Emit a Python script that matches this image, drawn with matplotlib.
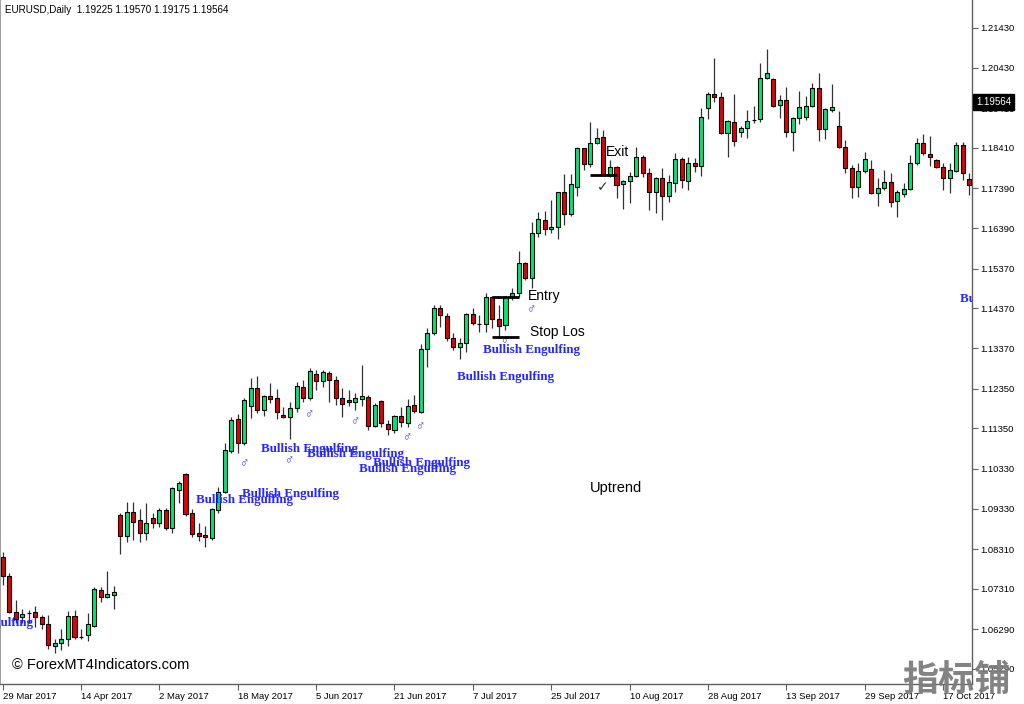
import numpy as np
import pandas as pd
import matplotlib
matplotlib.use("Agg")
from matplotlib import pyplot as plt
from matplotlib import transforms


# daily EURUSD candles, 29 Mar 2017 .. 23 Oct 2017
opens = [1.0811, 1.0763, 1.0672, 1.0660, 1.0670, 1.0672, 1.0660, 1.0642, 1.0587, 1.0594,
	1.0605, 1.0662, 1.0610, 1.0615, 1.0637, 1.0728, 1.0710, 1.0715, 1.0917, 1.0864,
	1.0924, 1.0904, 1.0871, 1.0909, 1.0897, 1.0929, 1.0884, 1.0980, 1.1020, 1.0922,
	1.0871, 1.0866, 1.0859, 1.0929, 1.0975, 1.1078, 1.1158, 1.1098, 1.1191, 1.1237,
	1.1181, 1.1216, 1.1211, 1.1168, 1.1164, 1.1186, 1.1239, 1.1211, 1.1272, 1.1254,
	1.1274, 1.1257, 1.1211, 1.1206, 1.1201, 1.1209, 1.1214, 1.1141, 1.1204, 1.1146,
	1.1131, 1.1166, 1.1148, 1.1194, 1.1176, 1.1335, 1.1375, 1.1438, 1.1418, 1.1362,
	1.1340, 1.1350, 1.1423, 1.1398, 1.1398, 1.1466, 1.1410, 1.1395, 1.1468, 1.1476,
	1.1551, 1.1514, 1.1627, 1.1660, 1.1637, 1.1642, 1.1730, 1.1675, 1.1743, 1.1841,
	1.1800, 1.1853, 1.1869, 1.1773, 1.1793, 1.1750, 1.1758, 1.1770, 1.1818, 1.1778,
	1.1730, 1.1765, 1.1720, 1.1753, 1.1813, 1.1758, 1.1803, 1.1796, 1.1942, 1.1977,
	1.1969, 1.1879, 1.1906, 1.1881, 1.1891, 1.1911, 1.1914, 1.2017, 1.2015, 1.1949,
	1.1962, 1.1881, 1.1916, 1.1919, 1.1947, 1.1992, 1.1889, 1.1937, 1.1896, 1.1843,
	1.1791, 1.1743, 1.1783, 1.1788, 1.1728, 1.1740, 1.1755, 1.1707, 1.1725, 1.1738,
	1.1803, 1.1853, 1.1826, 1.1811, 1.1793, 1.1765, 1.1783, 1.1848, 1.1763]

highs = [1.0824, 1.0771, 1.0703, 1.0680, 1.0678, 1.0688, 1.0665, 1.0665, 1.0605, 1.0630,
	1.0675, 1.0678, 1.0630, 1.0670, 1.0736, 1.0736, 1.0776, 1.0738, 1.0922, 1.0950,
	1.0950, 1.0932, 1.0947, 1.0922, 1.0934, 1.0934, 1.0987, 1.1002, 1.1022, 1.0932,
	1.0897, 1.0889, 1.0934, 1.0987, 1.1098, 1.1164, 1.1171, 1.1211, 1.1262, 1.1267,
	1.1219, 1.1249, 1.1234, 1.1189, 1.1201, 1.1252, 1.1257, 1.1287, 1.1282, 1.1282,
	1.1279, 1.1267, 1.1237, 1.1232, 1.1224, 1.1294, 1.1219, 1.1199, 1.1206, 1.1156,
	1.1168, 1.1189, 1.1209, 1.1219, 1.1347, 1.1388, 1.1446, 1.1446, 1.1425, 1.1375,
	1.1362, 1.1425, 1.1438, 1.1420, 1.1476, 1.1468, 1.1446, 1.1468, 1.1488, 1.1582,
	1.1554, 1.1655, 1.1680, 1.1682, 1.1710, 1.1731, 1.1775, 1.1775, 1.1843, 1.1842,
	1.1906, 1.1891, 1.1886, 1.1811, 1.1795, 1.1760, 1.1780, 1.1843, 1.1823, 1.1790,
	1.1768, 1.1790, 1.1773, 1.1828, 1.1818, 1.1818, 1.1816, 1.1942, 1.1982, 1.2068,
	1.1982, 1.1911, 1.1977, 1.1896, 1.1936, 1.1947, 1.2055, 1.2090, 1.2017, 1.1974,
	1.1994, 1.1919, 1.1984, 1.1972, 1.2005, 1.2030, 1.1942, 1.2002, 1.1934, 1.1861,
	1.1798, 1.1803, 1.1831, 1.1811, 1.1765, 1.1785, 1.1778, 1.1735, 1.1753, 1.1823,
	1.1866, 1.1876, 1.1871, 1.1813, 1.1803, 1.1803, 1.1856, 1.1856, 1.1778]

lows = [1.0740, 1.0670, 1.0645, 1.0645, 1.0645, 1.0635, 1.0630, 1.0579, 1.0569, 1.0577,
	1.0587, 1.0605, 1.0605, 1.0599, 1.0635, 1.0698, 1.0708, 1.0680, 1.0819, 1.0849,
	1.0854, 1.0849, 1.0854, 1.0884, 1.0887, 1.0879, 1.0871, 1.0947, 1.0914, 1.0861,
	1.0851, 1.0836, 1.0854, 1.0922, 1.0972, 1.1073, 1.1073, 1.1093, 1.1161, 1.1173,
	1.1166, 1.1199, 1.1158, 1.1161, 1.1108, 1.1176, 1.1201, 1.1206, 1.1232, 1.1239,
	1.1201, 1.1194, 1.1164, 1.1191, 1.1181, 1.1191, 1.1131, 1.1138, 1.1138, 1.1118,
	1.1123, 1.1138, 1.1138, 1.1173, 1.1173, 1.1289, 1.1370, 1.1390, 1.1355, 1.1332,
	1.1310, 1.1327, 1.1395, 1.1378, 1.1378, 1.1388, 1.1367, 1.1383, 1.1458, 1.1466,
	1.1509, 1.1488, 1.1617, 1.1622, 1.1627, 1.1612, 1.1647, 1.1670, 1.1720, 1.1785,
	1.1793, 1.1852, 1.1770, 1.1768, 1.1715, 1.1687, 1.1702, 1.1768, 1.1768, 1.1685,
	1.1677, 1.1660, 1.1705, 1.1730, 1.1740, 1.1735, 1.1780, 1.1770, 1.1914, 1.1957,
	1.1876, 1.1818, 1.1846, 1.1869, 1.1866, 1.1904, 1.1906, 1.2015, 1.1944, 1.1916,
	1.1869, 1.1833, 1.1901, 1.1911, 1.1944, 1.1858, 1.1864, 1.1931, 1.1841, 1.1778,
	1.1715, 1.1717, 1.1778, 1.1726, 1.1695, 1.1735, 1.1692, 1.1667, 1.1717, 1.1735,
	1.1798, 1.1823, 1.1796, 1.1791, 1.1735, 1.1728, 1.1780, 1.1760, 1.1722]

closes = [1.0763, 1.0672, 1.0655, 1.0667, 1.0670, 1.0660, 1.0642, 1.0589, 1.0594, 1.0605,
	1.0662, 1.0610, 1.0610, 1.0642, 1.0730, 1.0710, 1.0718, 1.0723, 1.0864, 1.0924,
	1.0899, 1.0871, 1.0897, 1.0897, 1.0929, 1.0884, 1.0985, 1.0997, 1.0919, 1.0869,
	1.0864, 1.0861, 1.0932, 1.0975, 1.1080, 1.1156, 1.1098, 1.1206, 1.1237, 1.1181,
	1.1216, 1.1209, 1.1176, 1.1164, 1.1186, 1.1242, 1.1211, 1.1279, 1.1254, 1.1277,
	1.1257, 1.1211, 1.1196, 1.1201, 1.1211, 1.1216, 1.1141, 1.1194, 1.1148, 1.1133,
	1.1166, 1.1151, 1.1191, 1.1179, 1.1335, 1.1375, 1.1438, 1.1420, 1.1362, 1.1340,
	1.1350, 1.1423, 1.1400, 1.1398, 1.1466, 1.1410, 1.1393, 1.1466, 1.1476, 1.1551,
	1.1514, 1.1627, 1.1662, 1.1637, 1.1642, 1.1730, 1.1675, 1.1750, 1.1841, 1.1800,
	1.1853, 1.1866, 1.1773, 1.1793, 1.1748, 1.1758, 1.1770, 1.1818, 1.1778, 1.1730,
	1.1765, 1.1720, 1.1755, 1.1813, 1.1760, 1.1803, 1.1796, 1.1919, 1.1977, 1.1969,
	1.1879, 1.1909, 1.1858, 1.1891, 1.1909, 1.1911, 1.2017, 1.2030, 1.1947, 1.1962,
	1.1881, 1.1916, 1.1944, 1.1947, 1.1992, 1.1889, 1.1939, 1.1944, 1.1843, 1.1791,
	1.1743, 1.1783, 1.1813, 1.1728, 1.1740, 1.1755, 1.1705, 1.1730, 1.1738, 1.1803,
	1.1853, 1.1828, 1.1818, 1.1793, 1.1765, 1.1785, 1.1848, 1.1778, 1.1748]

priceTicks = [1.21430, 1.20430, 1.19410, 1.18410, 1.17390, 1.16390, 1.15370, 1.14370,
	1.13370, 1.12350, 1.11350, 1.10330, 1.09330, 1.08310, 1.07310, 1.06290, 1.05290]
dateTicks = ["29 Mar 2017", "14 Apr 2017", "2 May 2017", "18 May 2017", "5 Jun 2017",
	"21 Jun 2017", "7 Jul 2017", "25 Jul 2017", "10 Aug 2017", "28 Aug 2017",
	"13 Sep 2017", "29 Sep 2017", "17 Oct 2017"]

header = "EURUSD,Daily  1.19225 1.19570 1.19175 1.19564"
lastPrice = 1.19564

# pattern labels (bar position, price) as placed on the chart
engulfX = [-10.2, 29.6, 36.6, 39.6, 46.6, 56.7, 54.6, 69.5, 73.6, 146.6]
engulfY = [1.0645, 1.0954, 1.0969, 1.1084, 1.1070, 1.1048, 1.1032, 1.1265, 1.1331, 1.1461]
arrowX = [37, 44, 47, 54, 62, 64, 77, 81]
arrowY = [1.1044, 1.1053, 1.1168, 1.1151, 1.1111, 1.1138, 1.1355, 1.1433]

entryPrice = 1.1466
stopPrice = 1.1366
exitPrice = 1.1773


def plotCandles(ax, dates):
	n = len(opens)
	x = np.arange(n)
	o = np.array(opens)
	c = np.array(closes)
	colors = np.where(c > o, '#00e673', np.where(c < o, '#e50000', '#000000'))

	ax.vlines(x, lows, highs, color='#333333', linewidth=0.9, zorder=2)
	ax.bar(x, c - o, bottom=o, width=0.62, color=colors, edgecolor='black',
		linewidth=0.8, zorder=3)

	ax.set_xlim(-0.41, 148.44)
	ax.set_ylim(1.04912, 1.22135)

	labels = [f"{d.day} {d.strftime('%b %Y')}" for d in dates]
	tickPos = [labels.index(t) for t in dateTicks]
	ax.set_xticks(tickPos)
	ax.set_xticklabels(dateTicks, ha='left')

	ax.yaxis.tick_right()
	ax.set_yticks(priceTicks)
	ax.set_yticklabels([f"{p:.5f}" for p in priceTicks])


def plotAnnotations(ax, fig):
	for bx, by in zip(engulfX, engulfY):
		ax.text(bx, by, "Bullish Engulfing", family='Liberation Serif', fontsize=9.4,
			fontweight='bold', color='#2626ff', ha='left', va='center', clip_on=True, zorder=5)
	for bx, by in zip(arrowX, arrowY):
		ax.text(bx, by, "\u2642", fontsize=9, color='#3535ff', ha='center', va='center',
			fontstyle='italic', zorder=5)

	ax.hlines(entryPrice, 74.9, 79.1, color='black', linewidth=2, zorder=6)
	ax.hlines(stopPrice, 75.0, 79.1, color='black', linewidth=2, zorder=6)
	ax.hlines(exitPrice, 89.9, 94.1, color='black', linewidth=2, zorder=6)
	ax.text(80.5, 1.1468, "Entry", fontsize=10, color='black', va='center', zorder=6)
	ax.text(80.8, 1.1377, "Stop Los", fontsize=10, color='black', va='center', zorder=6)
	ax.text(92.4, 1.1831, "Exit", fontsize=10, color='black', va='center', zorder=6)
	ax.text(91.9, 1.1743, "\u2713", fontsize=10, color='#303030', ha='center', va='center', zorder=6)
	ax.text(89.9, 1.0985, "Uptrend", fontsize=10.5, color='black', va='center')

	trans = transforms.blended_transform_factory(ax.transAxes, ax.transData)
	ax.text(1.0045, lastPrice, "1.19564", transform=trans, fontsize=7, color='white',
		ha='left', va='center', zorder=7, clip_on=False,
		bbox=dict(boxstyle='square,pad=0.3', facecolor='black', edgecolor='black'))

	fig.text(5 / 1024, 1 - 10 / 704, header, fontsize=7.1, color='black', va='center')
	fig.text(12 / 1024, 1 - 665 / 704, "\u00a9 ForexMT4Indicators.com", fontsize=10.5,
		color='black', va='center')
	fig.text(956 / 1024, 1 - 680 / 704, "指标铺", family=['Noto Sans CJK SC', 'DejaVu Sans'],
		fontsize=26, fontweight='bold', color='#7c7c7c', ha='center', va='center', alpha=0.95)


def main():
	plt.rcParams['font.family'] = ['Liberation Sans', 'DejaVu Sans']
	dates = pd.bdate_range("2017-03-29", periods=len(opens))

	fig = plt.figure(figsize=(10.24, 7.04), dpi=100)
	fig.patch.set_facecolor('white')
	ax = fig.add_axes([0, 20 / 704, 972 / 1024, 684 / 704])
	ax.set_facecolor('white')

	plotCandles(ax, dates)

	for side in ['right', 'bottom']:
		ax.spines[side].set_color('#606060')
		ax.spines[side].set_linewidth(1.0)
	ax.spines['left'].set_color('#a0a0a0')
	ax.spines['left'].set_linewidth(1.5)
	ax.spines['top'].set_visible(False)
	ax.tick_params(axis='both', direction='out', length=4, width=0.8, color='#606060',
		labelsize=6.8, pad=2)

	plotAnnotations(ax, fig)

	fig.savefig('out.png', dpi=100)


if __name__ == "__main__":
	main()
